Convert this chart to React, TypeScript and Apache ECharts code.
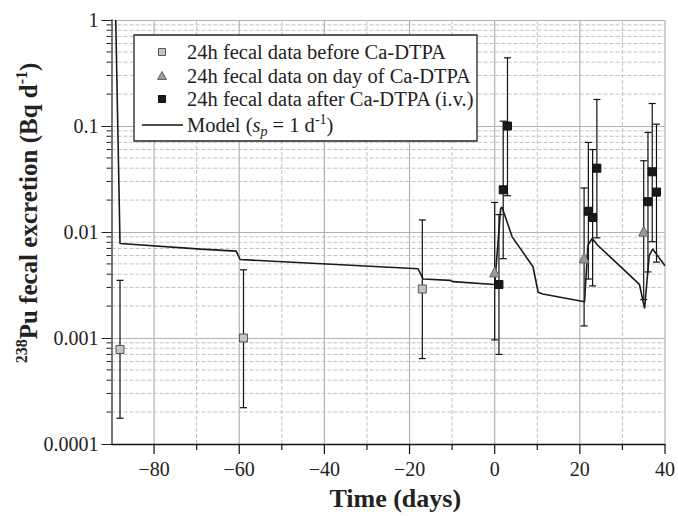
import React, { useEffect, useRef } from "react";
import * as echarts from "echarts";

const FONT = "'Liberation Serif', 'Times New Roman', serif";

// x-axis range and tick values
const X_MIN = -90;
const X_MAX = 40;
const xGridValues = [-80, -70, -60, -50, -40, -30, -20, -10, 0, 10, 20, 30, 40];
const xMajorStep = 20;

// y-axis minor gridline values (2..9 x decade)
const yDecades = [0.0001, 0.001, 0.01, 0.1];
const yMinorMultipliers = [2, 3, 4, 5, 6, 7, 8, 9];

// 24h fecal data before Ca-DTPA: [day, value, low, high]
const beforeData = [
  [-88, 0.00078, 0.000175, 0.0035],
  [-59, 0.001, 0.00022, 0.0044],
  [-17, 0.0029, 0.00064, 0.013],
];

// 24h fecal data on day of Ca-DTPA
const onDayData = [
  [0, 0.0042, 0.00096, 0.019],
  [21, 0.0057, 0.0013, 0.026],
  [35, 0.0102, 0.0023, 0.047],
];

// 24h fecal data after Ca-DTPA (i.v.)
const afterData = [
  [1, 0.0032, 0.0007, 0.0146],
  [2, 0.025, 0.0056, 0.111],
  [3, 0.1, 0.022, 0.44],
  [22, 0.0157, 0.0036, 0.07],
  [23, 0.0137, 0.0031, 0.06],
  [24, 0.04, 0.0088, 0.178],
  [36, 0.0193, 0.0042, 0.087],
  [37, 0.037, 0.0081, 0.163],
  [38, 0.0238, 0.0052, 0.104],
];

// Model (s_p = 1 d^-1)
const modelDays = [-89, -88, -69, -60.7, -59.8, -18, -16.8, -10.5, -9.8, 0, 1.4, 1.7, 4.1, 9.0, 10.2, 11.3, 21.1, 21.9, 22.9, 24.2, 34.0, 35.2, 36.3, 37.1, 40];
const modelValues = [1.0, 0.0078, 0.0069, 0.0066, 0.0055, 0.0045, 0.0036, 0.0035, 0.0034, 0.0032, 0.0166, 0.0172, 0.009, 0.0047, 0.0027, 0.0026, 0.0022, 0.0075, 0.0087, 0.0075, 0.0032, 0.0019, 0.006, 0.0069, 0.0048];

const legendLabels = [
  "24h fecal data before Ca-DTPA",
  "24h fecal data on day of Ca-DTPA",
  "24h fecal data after Ca-DTPA (i.v.)",
];

function App() {
  const ref = useRef<HTMLDivElement>(null);

  useEffect(() => {
    if (!ref.current) return;
    const chart = echarts.init(ref.current, null, { renderer: "svg" });

    const yMinor: number[][] = [];
    yDecades.forEach((d) => yMinorMultipliers.forEach((m) => yMinor.push([X_MIN, +(d * m).toPrecision(2)])));

    const errorRender = (params: any, api: any) => {
      const x = api.value(0);
      const lo = api.coord([x, api.value(1)]);
      const hi = api.coord([x, api.value(2)]);
      const cw = 3.5;
      const st = { stroke: "#111", lineWidth: 1.2 };
      return {
        type: "group",
        children: [
          { type: "line", shape: { x1: lo[0], y1: lo[1], x2: hi[0], y2: hi[1] }, style: st },
          { type: "line", shape: { x1: hi[0] - cw, y1: hi[1], x2: hi[0] + cw, y2: hi[1] }, style: st },
          { type: "line", shape: { x1: lo[0] - cw, y1: lo[1], x2: lo[0] + cw, y2: lo[1] }, style: st },
        ],
      };
    };

    const yMinorRender = (params: any, api: any) => {
      const cs = params.coordSys;
      const p = api.coord([api.value(0), api.value(1)]);
      return {
        type: "group",
        children: [
          {
            type: "line",
            shape: { x1: cs.x, y1: p[1], x2: cs.x + cs.width, y2: p[1] },
            style: { stroke: "#c2c2c2", lineWidth: 1, lineDash: [4, 2] },
          },
          {
            type: "line",
            shape: { x1: cs.x - 5, y1: p[1], x2: cs.x, y2: p[1] },
            style: { stroke: "#222", lineWidth: 1 },
          },
        ],
      };
    };

    const xGridRender = (params: any, api: any) => {
      const cs = params.coordSys;
      const v = api.value(0);
      const p = api.coord([v, 1]);
      const major = Math.abs(v % xMajorStep) < 1e-9;
      const bottom = cs.y + cs.height;
      return {
        type: "group",
        children: [
          {
            type: "line",
            shape: { x1: p[0], y1: cs.y, x2: p[0], y2: bottom },
            style: major
              ? { stroke: "#b3b3b3", lineWidth: 1.2 }
              : { stroke: "#c2c2c2", lineWidth: 1, lineDash: [4, 2] },
          },
          {
            type: "line",
            shape: { x1: p[0], y1: bottom, x2: p[0], y2: bottom + (major ? 10 : 6) },
            style: { stroke: "#111", lineWidth: 1.2 },
          },
        ],
      };
    };

    const sym = (arr: number[][]) => arr.map((r) => [r[0], r[1]]);
    const err = (arr: number[][]) => arr.map((r) => [r[0], r[2], r[3]]);

    const legendX = 134;
    const legendY = 35;
    const iconX = 162;
    const textX = 187;
    const rowY = [52, 76, 99, 125];
    const LF = 20.5;
    const ZL = 100;

    const option: any = {
      animation: false,
      backgroundColor: "#ffffff",
      grid: { left: 111.5, right: 11, top: 20, bottom: 69, containLabel: false },
      xAxis: {
        type: "value",
        min: X_MIN,
        max: X_MAX,
        interval: 10,
        axisLine: { show: true, onZero: false, lineStyle: { color: "#111", width: 1.3 } },
        axisTick: { show: false },
        splitLine: { show: false },
        axisLabel: {
          margin: 15,
          fontFamily: FONT,
          fontSize: 20,
          color: "#222",
          formatter: (v: number) => (v % 20 !== 0 ? "" : v < 0 ? "\u2212" + Math.abs(v) : String(v)),
        },
        name: "Time (days)",
        nameLocation: "middle",
        nameGap: 41,
        nameTextStyle: { fontFamily: FONT, fontWeight: "bold", fontSize: 26, color: "#222", padding: [0, 0, 0, 14] },
      },
      yAxis: {
        type: "log",
        logBase: 10,
        min: 0.0001,
        max: 1,
        axisLine: { show: true, onZero: false, lineStyle: { color: "#666", width: 1.8 } },
        axisTick: { show: true, length: 10, lineStyle: { color: "#222", width: 1 } },
        splitLine: { show: true, lineStyle: { color: "#b3b3b3", width: 1.2 } },
        minorTick: { show: false },
        axisLabel: {
          margin: 13,
          fontFamily: FONT,
          fontSize: 20,
          color: "#222",
          formatter: (v: number) => String(+v.toPrecision(1)),
        },
      },
      graphic: [
        {
          type: "text",
          x: 27,
          y: 213,
          rotation: Math.PI / 2,
          z: ZL,
          style: {
            text: "{sup|238}{t|Pu fecal excretion (Bq d}{sup|-1}{t|)}",
            align: "center",
            verticalAlign: "middle",
            fill: "#222",
            rich: {
              t: { fontFamily: FONT, fontWeight: "bold", fontSize: 25, lineHeight: 28, verticalAlign: "bottom", fill: "#222" },
              sup: { fontFamily: FONT, fontWeight: "bold", fontSize: 16, lineHeight: 16, verticalAlign: "top", fill: "#222" },
            },
          },
        },
        {
          type: "rect",
          z: ZL,
          shape: { x: legendX, y: legendY, width: 343, height: 106 },
          style: { fill: "#ffffff", stroke: "#222", lineWidth: 1.3 },
        },
        {
          type: "rect",
          z: ZL + 1,
          shape: { x: iconX - 3.5, y: rowY[0] - 3.5, width: 7, height: 7 },
          style: { fill: "#c4c4c4", stroke: "#555", lineWidth: 1 },
        },
        {
          type: "polygon",
          z: ZL + 1,
          shape: { points: [[iconX, rowY[1] - 4.5], [iconX + 4.5, rowY[1] + 3.5], [iconX - 4.5, rowY[1] + 3.5]] },
          style: { fill: "#9a9a9a", stroke: "#666", lineWidth: 1 },
        },
        {
          type: "rect",
          z: ZL + 1,
          shape: { x: iconX - 3.5, y: rowY[2] - 3.5, width: 7, height: 7 },
          style: { fill: "#1a1a1a", stroke: "#111", lineWidth: 1 },
        },
        {
          type: "line",
          z: ZL + 1,
          shape: { x1: 142, y1: rowY[3], x2: 183, y2: rowY[3] },
          style: { stroke: "#111", lineWidth: 1.6 },
        },
        ...legendLabels.map((t, i) => ({
          type: "text",
          z: ZL + 1,
          x: textX,
          y: rowY[i],
          style: { text: t, fontFamily: FONT, fontSize: LF, fill: "#222", verticalAlign: "middle", align: "left" },
        })),
        {
          type: "text",
          z: ZL + 1,
          x: textX,
          y: rowY[3],
          style: {
            text: "{n|Model (}{i|s}{sub|p}{n| = 1 d}{sup|-1}{n|)}",
            verticalAlign: "middle",
            align: "left",
            rich: {
              n: { fontFamily: FONT, fontSize: LF, lineHeight: 26, verticalAlign: "middle", fill: "#222" },
              i: { fontFamily: FONT, fontSize: LF, fontStyle: "italic", lineHeight: 26, verticalAlign: "middle", fill: "#222" },
              sub: { fontFamily: FONT, fontSize: 14, fontStyle: "italic", lineHeight: 14, verticalAlign: "bottom", fill: "#222" },
              sup: { fontFamily: FONT, fontSize: 14, lineHeight: 14, verticalAlign: "top", fill: "#222" },
            },
          },
        },
      ],
      series: [
        {
          name: "yMinorGrid",
          type: "custom",
          renderItem: yMinorRender,
          data: yMinor,
          encode: { x: 0, y: 1 },
          silent: true,
          z: 0,
        },
        {
          name: "xGrid",
          type: "custom",
          renderItem: xGridRender,
          data: xGridValues.map((v) => [v, 1]),
          encode: { x: 0, y: 1 },
          silent: true,
          z: 0,
        },
        {
          name: "errBefore",
          type: "custom",
          renderItem: errorRender,
          data: err(beforeData),
          encode: { x: 0, y: [1, 2] },
          z: 3,
        },
        {
          name: "errOnDay",
          type: "custom",
          renderItem: errorRender,
          data: err(onDayData),
          encode: { x: 0, y: [1, 2] },
          z: 3,
        },
        {
          name: "errAfter",
          type: "custom",
          renderItem: errorRender,
          data: err(afterData),
          encode: { x: 0, y: [1, 2] },
          z: 3,
        },
        {
          name: "Model (s_p = 1 d-1)",
          type: "line",
          data: modelDays.map((d, i) => [d, modelValues[i]]),
          showSymbol: false,
          symbol: "none",
          lineStyle: { color: "#1a1a1a", width: 1.6 },
          clip: true,
          z: 4,
        },
        {
          name: legendLabels[0],
          type: "scatter",
          data: sym(beforeData),
          symbol: "rect",
          symbolSize: 8,
          itemStyle: { color: "#c4c4c4", borderColor: "#555", borderWidth: 1, opacity: 1 },
          z: 5,
        },
        {
          name: legendLabels[1],
          type: "scatter",
          data: sym(onDayData),
          symbol: "triangle",
          symbolSize: 10,
          itemStyle: { color: "#9a9a9a", borderColor: "#666", borderWidth: 1, opacity: 1 },
          z: 5,
        },
        {
          name: legendLabels[2],
          type: "scatter",
          data: sym(afterData),
          symbol: "rect",
          symbolSize: 8,
          itemStyle: { color: "#1a1a1a", borderColor: "#111", borderWidth: 1, opacity: 1 },
          z: 5,
        },
      ],
    };

    chart.setOption(option);
    return () => chart.dispose();
  }, []);

  return (
    <div
      ref={ref}
      style={{ position: "fixed", left: 0, top: 0, width: 678, height: 516, background: "#fff" }}
    />
  );
}

export default App;
